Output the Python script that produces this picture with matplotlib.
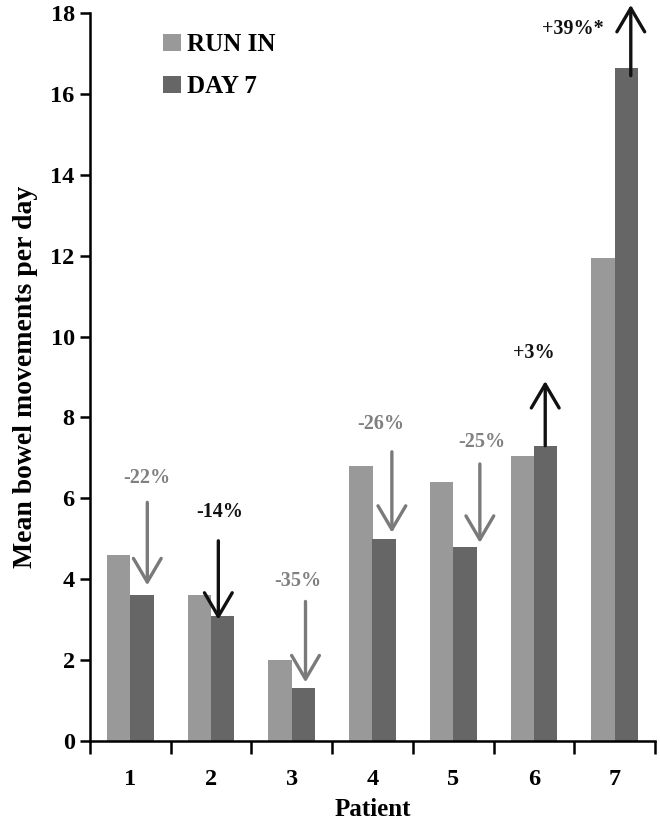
import matplotlib
matplotlib.use("Agg")
import matplotlib.pyplot as plt
import numpy as np

patients = ["1", "2", "3", "4", "5", "6", "7"]
run_in = [4.6, 3.6, 2.0, 6.8, 6.4, 7.05, 11.95]
day7 = [3.6, 3.1, 1.3, 5.0, 4.8, 7.3, 16.65]
pct_labels = ["-22%", "-14%", "-35%", "-26%", "-25%", "+3%", "+39%*"]
arrow_start = [5.9, 4.95, 3.45, 7.15, 6.85, 7.3, 16.45]
arrow_end = [3.85, 3.0, 1.45, 5.15, 4.9, 8.9, 18.2]
arrow_dx = [0.21, 0.09, 0.17, 0.24, 0.33, 0.14, 0.2]
label_y = [6.5, 5.65, 3.95, 7.85, 7.4, 9.6, 17.6]
label_dx = [0.2, 0.11, 0.07, 0.1, 0.35, 0.0, -0.52]
arrow_dark = [False, True, False, False, False, True, True]

plt.rcParams["font.family"] = ["Liberation Serif", "DejaVu Serif"]
plt.rcParams["font.weight"] = "bold"

fig = plt.figure(figsize=(6.6, 8.21), dpi=100)
ax = fig.add_axes([90/660, 1-741/821, 565/660, 728/821])

x = np.arange(1, len(patients)+1)
w = 0.29
ax.bar(x - w/2, run_in, w, color="#999999", label="RUN IN")
ax.bar(x + w/2, day7, w, color="#666666", label="DAY 7")

for i in range(len(patients)):
    c = "#111111" if arrow_dark[i] else "#7a7a7a"
    tc = "#111111" if arrow_dark[i] else "#808080"
    xa = x[i] + arrow_dx[i]
    ax.annotate("", xy=(xa, arrow_end[i]), xytext=(xa, arrow_start[i]),
                arrowprops=dict(arrowstyle="->,head_length=0.85,head_width=0.5",
                                color=c, lw=2.4, shrinkA=0, shrinkB=0,
                                mutation_scale=20),
                annotation_clip=False)
    ax.text(x[i] + label_dx[i], label_y[i], pct_labels[i], ha="center", va="center",
            fontsize=14.5, fontweight="bold", color=tc)

ax.set_xlim(0.5, 7.5)
ax.set_ylim(0, 18)
ax.set_yticks(np.arange(0, 19, 2))
ax.set_xticks(np.arange(0.5, 8, 1))
ax.set_xticklabels([])
ax.set_xticks(x, minor=True)
ax.set_xticklabels(patients, minor=True)
ax.tick_params(axis="x", which="minor", length=0, pad=20, labelsize=17.5)
ax.tick_params(axis="x", which="major", length=9, width=1.8, direction="out")
ax.tick_params(axis="y", length=7, width=1.8, direction="out", labelsize=17.5, pad=4)
for lab in ax.get_xticklabels(minor=True) + ax.get_yticklabels():
    lab.set_fontweight("bold")

for s in ["top", "right"]:
    ax.spines[s].set_visible(False)
for s in ["left", "bottom"]:
    ax.spines[s].set_linewidth(1.8)

ax.set_ylabel("Mean bowel movements per day", fontsize=20, fontweight="bold", labelpad=9)
ax.set_xlabel("Patient", fontsize=18, fontweight="bold", labelpad=6)

leg = ax.legend(loc="upper left", bbox_to_anchor=(0.13, 0.972), frameon=False,
                fontsize=18, handlelength=0.7, handleheight=0.7, labelspacing=0.75,
                handletextpad=0.25, borderaxespad=0, borderpad=0)
for t in leg.get_texts():
    t.set_fontweight("bold")

fig.savefig("out.png", dpi=100)
